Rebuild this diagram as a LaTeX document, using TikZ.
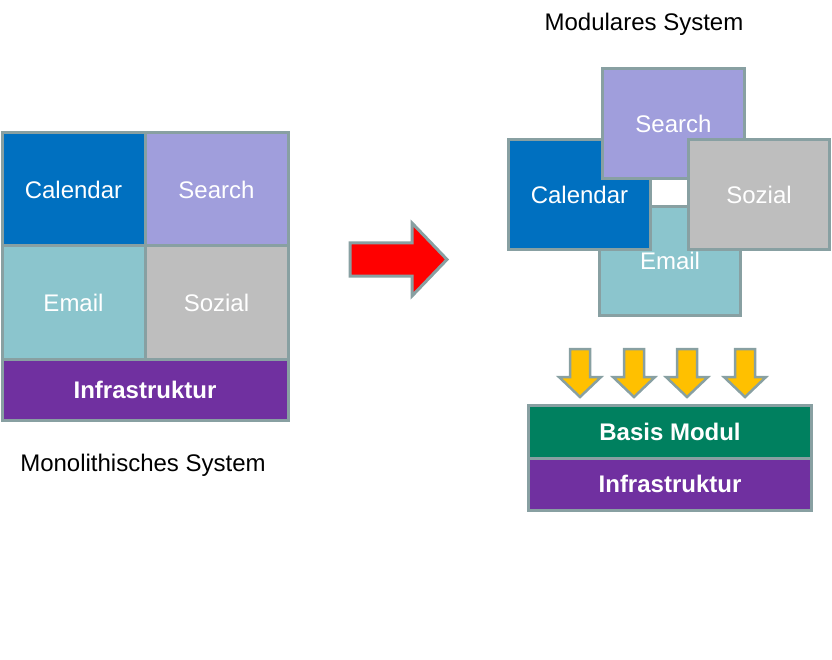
\documentclass[tikz,border=0pt]{standalone}
\usepackage{fontspec}
\setmainfont{Liberation Sans}
\definecolor{bd}{HTML}{88A0A2}
\definecolor{calc}{HTML}{0070C0}
\definecolor{seac}{HTML}{A09EDC}
\definecolor{emac}{HTML}{8BC5CD}
\definecolor{sozc}{HTML}{BEBEBE}
\definecolor{infc}{HTML}{7030A0}
\definecolor{basc}{HTML}{00805F}
\definecolor{yelc}{HTML}{FFC000}
\definecolor{redc}{HTML}{FF0000}
\tikzset{
  cell/.style={draw=bd, line width=3pt, text=white, inner sep=0pt,
    font=\fontsize{24}{29}\selectfont},
  boldcell/.style={cell, font=\fontsize{24}{29}\selectfont\bfseries},
  lbl/.style={text=black, inner sep=0pt, font=\fontsize{24}{29}\selectfont},
  yarrow/.style={draw=bd, line width=2.5pt, fill=yelc, line join=miter},
}
\begin{document}
\begin{tikzpicture}[x=1pt,y=-1pt]
\useasboundingbox (0,0) rectangle (832,660);
% left monolithic block
\node[cell, fill=calc, minimum width=143pt, minimum height=113pt] (lcal) at (73.5,189.5) {Calendar};
\node[cell, fill=seac, minimum width=143pt, minimum height=113pt] (lsea) at (216.5,189.5) {Search};
\node[cell, fill=emac, minimum width=143pt, minimum height=113pt] (lema) at (73.5,302.5) {Email};
\node[cell, fill=sozc, minimum width=143pt, minimum height=113pt] (lsoz) at (216.5,302.5) {Sozial};
\node[boldcell, fill=infc, minimum width=286pt, minimum height=61.5pt] (linf) at (145,390) {\raisebox{-2pt}{Infrastruktur}};
\node[lbl] (lmono) at (143,465.5) {Monolithisches System};
% red arrow
\draw[draw=bd, line width=3pt, fill=redc, line join=miter]
  (350,243) -- (412,243) -- (412,223) -- (447,259.5) -- (412,296) -- (412,276) -- (350,276) -- cycle;
% right modular system
\node[lbl] (rmod) at (644,24.5) {Modulares System};
\node[cell, fill=emac, minimum width=141pt, minimum height=109pt] (rema) at (670,261) {Email};
\node[cell, fill=calc, minimum width=142pt, minimum height=110pt] (rcal) at (579.5,194.5) {Calendar};
\node[cell, fill=seac, minimum width=142pt, minimum height=110pt] (rsea) at (673.5,123.5) {Search};
\node[cell, fill=sozc, minimum width=141pt, minimum height=110pt] (rsoz) at (759,194.5) {Sozial};
% yellow arrows
\foreach \cx in {580,634,687,745}{
  \draw[yarrow] (\cx-10,349) -- (\cx+10,349) -- (\cx+10,377) -- (\cx+21,377) -- (\cx,397) -- (\cx-21,377) -- (\cx-10,377) -- cycle;
}
\node[boldcell, fill=basc, minimum width=283pt, minimum height=52.5pt] (rbas) at (670,431.75) {Basis Modul};
\node[boldcell, fill=infc, minimum width=283pt, minimum height=52.5pt] (rinf) at (670,484.25) {Infrastruktur};
\end{tikzpicture}
\end{document}
